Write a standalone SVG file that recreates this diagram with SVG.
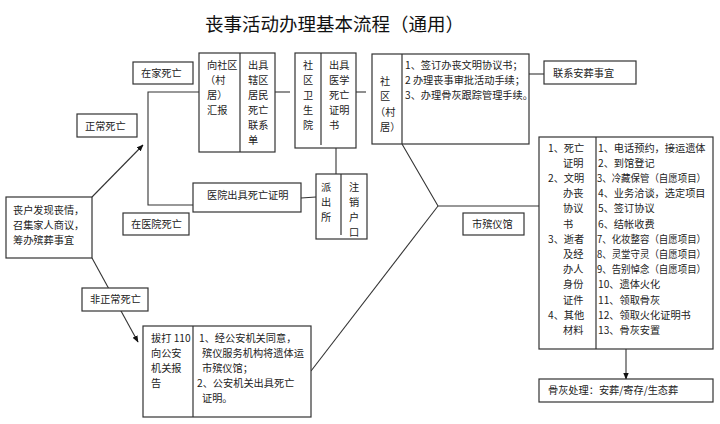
<svg xmlns="http://www.w3.org/2000/svg" width="720" height="424" viewBox="0 0 720 424">
<defs>
<style>
.bx{fill:#fff;stroke:#333;stroke-width:1.2}
.dv{fill:none;stroke:#333;stroke-width:1.2}
.ln{fill:none;stroke:#333;stroke-width:1.1}
text{font-family:"Noto Sans CJK SC","Noto Sans",sans-serif;font-size:10.2px;fill:#222}
.title{font-size:18.5px;fill:#111}
</style>
<marker id="ah" viewBox="0 0 10 10" refX="9" refY="5" markerWidth="7" markerHeight="7" orient="auto" markerUnits="userSpaceOnUse">
<path d="M0,1 L10,5 L0,9 Z" fill="#111"/>
</marker>
</defs>
<rect width="720" height="424" fill="#fff"/>
<text class="title" x="205" y="31">丧事活动办理基本流程（通用）</text>

<g id="connectors">
<path class="ln" d="M199,92 H148 V205 H193"/>
<path class="ln" d="M275,92 H290"/>
<path class="ln" d="M356,92 H366"/>
<path class="ln" d="M529,74 H544"/>
<path class="ln" d="M336,148 V174"/>
<path class="ln" d="M301,198 L316,197"/>
<path class="ln" d="M402,144 L438,206 H539"/>
<path class="ln" d="M438,206 L311,371"/>
<path class="ln" d="M92,197 L143,145" marker-end="url(#ah)"/>
<path class="ln" d="M92,258 L138,342" marker-end="url(#ah)"/>
<path class="ln" d="M626,349 V379" marker-end="url(#ah)"/>
</g>

<g id="n-home">
<rect class="bx" x="133" y="62" width="60" height="22"/>
<text x="141" y="77">在家死亡</text>
</g>
<g id="n-normal">
<rect class="bx" x="77" y="114" width="60" height="23"/>
<text x="85" y="130">正常死亡</text>
</g>
<g id="n-report">
<rect class="bx" x="199" y="53" width="76" height="99"/>
<line class="dv" x1="240" y1="53" x2="240" y2="152"/>
<text x="207" y="69">向社区</text>
<text x="205" y="84">（村</text>
<text x="207" y="99">居）</text>
<text x="207" y="114">汇报</text>
<text x="248" y="69">出具</text>
<text x="248" y="84">辖区</text>
<text x="248" y="99">居民</text>
<text x="248" y="114">死亡</text>
<text x="248" y="129">联系</text>
<text x="248" y="144">单</text>
</g>
<g id="n-clinic">
<rect class="bx" x="295" y="53" width="61" height="95"/>
<line class="dv" x1="321" y1="53" x2="321" y2="145"/>
<text x="303" y="69">社</text>
<text x="303" y="84">区</text>
<text x="303" y="99">卫</text>
<text x="303" y="114">生</text>
<text x="303" y="129">院</text>
<text x="329" y="69">出具</text>
<text x="329" y="84">医学</text>
<text x="329" y="99">死亡</text>
<text x="329" y="114">证明</text>
<text x="329" y="129">书</text>
</g>
<g id="n-community">
<rect class="bx" x="372" y="54" width="157" height="90"/>
<line class="dv" x1="402" y1="54" x2="402" y2="144"/>
<text x="380" y="85">社</text>
<text x="380" y="100">区</text>
<text x="375" y="116">（村</text>
<text x="380" y="131">居）</text>
<text x="405" y="69">1、签订办丧文明协议书；</text>
<text x="405" y="84">2 办理丧事审批活动手续；</text>
<text x="405" y="99">3、办理骨灰跟踪管理手续。</text>
</g>
<g id="n-contact">
<rect class="bx" x="544" y="61" width="92" height="23"/>
<text x="553" y="77">联系安葬事宜</text>
</g>
<g id="n-start">
<rect class="bx" x="6" y="197" width="86" height="61"/>
<text x="13" y="214">丧户发现丧情，</text>
<text x="13" y="229">召集家人商议，</text>
<text x="13" y="244">筹办殡葬事宜</text>
</g>
<g id="n-hospital-cert">
<rect class="bx" x="193" y="183" width="108" height="29"/>
<text x="207" y="199">医院出具死亡证明</text>
</g>
<g id="n-hospital">
<rect class="bx" x="123" y="213" width="66" height="22"/>
<text x="131" y="228">在医院死亡</text>
</g>
<g id="n-police">
<rect class="bx" x="316" y="174" width="51" height="65"/>
<line class="dv" x1="341" y1="174" x2="341" y2="235"/>
<text x="321" y="191">派</text>
<text x="321" y="206">出</text>
<text x="321" y="221">所</text>
<text x="349" y="191">注</text>
<text x="349" y="206">销</text>
<text x="349" y="221">户</text>
<text x="349" y="236">口</text>
</g>
<g id="n-funeral-home">
<rect class="bx" x="463" y="213" width="61" height="22"/>
<text x="472" y="228">市殡仪馆</text>
</g>
<g id="n-abnormal">
<rect class="bx" x="82" y="288" width="66" height="23"/>
<text x="90" y="303">非正常死亡</text>
</g>
<g id="n-110">
<rect class="bx" x="143" y="326" width="168" height="91"/>
<line class="dv" x1="193" y1="326" x2="193" y2="417"/>
<text x="151" y="342">拔打 110</text>
<text x="151" y="357">向公安</text>
<text x="151" y="372">机关报</text>
<text x="151" y="387">告</text>
<text x="199" y="342">1、经公安机关同意，</text>
<text x="202" y="357">殡仪服务机构将遗体运</text>
<text x="202" y="372">市殡仪馆；</text>
<text x="197" y="387">2、公安机关出具死亡</text>
<text x="202" y="402">证明。</text>
</g>
<g id="n-services">
<rect class="bx" x="539" y="137" width="174" height="212"/>
<line class="dv" x1="596" y1="137" x2="596" y2="349"/>
<text x="548" y="152">1、死亡</text>
<text x="563" y="167">证明</text>
<text x="548" y="182">2、文明</text>
<text x="563" y="197">办丧</text>
<text x="563" y="212">协议</text>
<text x="563" y="228">书</text>
<text x="548" y="243">3、逝者</text>
<text x="563" y="258">及经</text>
<text x="563" y="273">办人</text>
<text x="563" y="288">身份</text>
<text x="563" y="304">证件</text>
<text x="548" y="319">4、其他</text>
<text x="563" y="334">材料</text>
<text x="598" y="152">1、电话预约，接运遗体</text>
<text x="598" y="167">2、到馆登记</text>
<text x="597" y="182" textLength="109" lengthAdjust="spacingAndGlyphs">3、冷藏保管（自愿项目）</text>
<text x="598" y="197">4、业务洽谈，选定项目</text>
<text x="598" y="212">5、签订协议</text>
<text x="598" y="228">6、结帐收费</text>
<text x="597" y="243" textLength="109" lengthAdjust="spacingAndGlyphs">7、化妆整容（自愿项目）</text>
<text x="597" y="258" textLength="109" lengthAdjust="spacingAndGlyphs">8、灵堂守灵（自愿项目）</text>
<text x="597" y="273" textLength="109" lengthAdjust="spacingAndGlyphs">9、告别悼念（自愿项目）</text>
<text x="598" y="288">10、遗体火化</text>
<text x="598" y="304">11、领取骨灰</text>
<text x="598" y="319">12、领取火化证明书</text>
<text x="598" y="334">13、骨灰安置</text>
</g>
<g id="n-ashes">
<rect class="bx" x="539" y="379" width="174" height="23"/>
<text x="548" y="394">骨灰处理：安葬/寄存/生态葬</text>
</g>
</svg>
